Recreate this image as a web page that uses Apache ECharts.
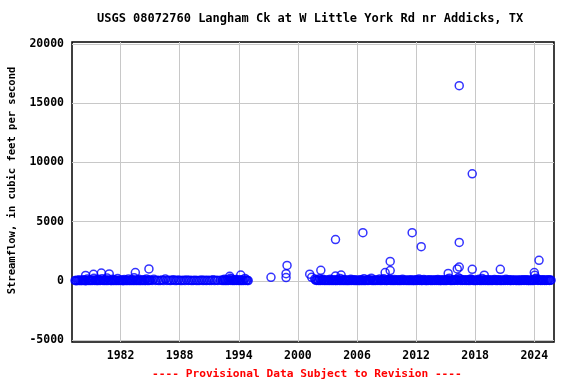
<!DOCTYPE html>
<html><head><meta charset="utf-8">
<script src="https://cdn.jsdelivr.net/npm/echarts@6/dist/echarts.min.js"></script>
<style>html,body{margin:0;padding:0;background:#fff}#c{width:576px;height:384px}</style>
</head><body><div id="c"></div>
<script>
const chartTitle = 'USGS 08072760 Langham Ck at W Little York Rd nr Addicks, TX';
const yAxisTitle = 'Streamflow, in cubic feet per second';
const footerText = '---- Provisional Data Subject to Revision ----';
const yTicks = [-5000, 0, 5000, 10000, 15000, 20000];
const xTicks = [1982, 1988, 1994, 2000, 2006, 2012, 2018, 2024];

// Monthly near-baseline measurements (cfs), one row per year
const monthlyYears = [1977,1978,1979,1980,1981,1982,1983,1984,1985,1986,1987,1988,1989,1990,1991,1992,1993,1994,
  2001,2002,2003,2004,2005,2006,2007,2008,2009,2010,2011,2012,2013,2014,2015,2016,2017,2018,2019,2020,2021,2022,2023,2024,2025];
const monthlyFlow = [
  [null,null,null,null,18,25,12,40,22,65,30,15],
  [28,45,20,90,35,14,22,160,40,18,55,30],
  [75,20,40,210,25,60,18,35,140,22,48,30],
  [40,180,25,55,16,90,30,240,20,45,70,26],
  [35,18,120,24,60,15,40,28,190,22,36,50],
  [20,65,30,14,110,38,22,52,18,150,30,24],
  [45,22,80,35,260,18,40,25,60,20,130,28],
  [30,55,18,42,90,20,35,160,25,48,22,70],
  [40,null,25,null,120,null,30,null,55,null,20,null],
  [35,null,60,null,18,null,150,null,28,null,45,null],
  [22,null,40,null,90,null,16,null,35,null,60,null],
  [28,null,18,null,45,null,22,null,70,null,30,null],
  [40,null,20,null,35,null,55,null,18,null,26,null],
  [30,null,65,null,22,null,40,null,15,null,50,null],
  [25,null,35,null,80,null,20,null,45,null,30,null],
  [null,40,null,25,60,18,120,30,45,22,90,35],
  [50,210,30,160,25,70,20,45,110,28,60,35],
  [40,22,95,30,55,18,45,200,25,60,30,20],
  [null,null,null,null,null,null,null,null,150,60,30,90],
  [45,20,180,35,60,25,120,40,18,70,30,55],
  [30,65,22,140,40,18,55,28,90,35,20,60],
  [25,80,35,200,20,45,60,18,110,30,50,22],
  [40,18,70,30,120,25,45,60,20,85,35,28],
  [55,22,40,15,95,30,60,20,180,35,25,45],
  [30,110,25,60,40,220,20,50,35,70,18,45],
  [65,28,40,150,22,55,30,90,180,25,45,35],
  [20,75,40,130,30,60,25,45,18,100,35,55],
  [45,20,85,30,60,15,40,120,25,50,30,70],
  [25,55,18,40,30,90,20,45,35,15,60,28],
  [80,30,45,160,25,60,35,20,50,110,40,22],
  [35,65,20,45,90,30,55,18,40,75,25,60],
  [28,40,110,22,60,35,18,50,85,30,45,20],
  [60,25,140,40,220,30,55,20,45,90,35,65],
  [40,120,30,250,60,180,35,70,25,55,90,30],
  [45,25,80,35,60,20,150,110,40,30,55,22],
  [35,70,25,50,140,30,45,20,200,60,35,80],
  [25,50,35,90,20,60,40,18,75,30,55,110],
  [40,22,65,30,85,45,20,55,35,70,25,50],
  [30,140,40,25,60,90,35,20,50,75,30,45],
  [55,25,35,70,20,40,18,60,30,45,85,25],
  [40,60,25,80,35,20,55,30,45,20,65,35],
  [150,40,220,60,30,85,45,25,60,35,90,40],
  [35,70,25,55,40,90,30,60,45,null,null,null]
];

// Higher flow measurements (decimal year, cfs)
const peakYears = [1978.45,1979.25,1980.05,1980.85,1983.5,1984.88,1993.08,1994.2,1997.27,1998.8,1998.8,1998.9,
  2001.2,2001.4,2002.33,2003.82,2003.82,2004.39,2006.6,2008.86,2009.37,2009.37,2011.6,2012.52,2015.26,
  2016.18,2016.38,2016.38,2016.38,2017.7,2017.7,2018.92,2020.55,2024.0,2024.05,2024.48];
const peakFlow = [450,550,650,580,690,1000,380,490,290,270,600,1300,
  560,290,880,3480,400,490,4060,690,860,1640,4060,2880,620,
  1000,1160,3240,16480,970,9040,470,970,690,460,1730];

const points = [];
monthlyYears.forEach((yr, i) => {
  monthlyFlow[i].forEach((v, m) => { if (v !== null) points.push([yr + (m + 0.5) / 12, v]); });
});
peakYears.forEach((yr, i) => points.push([yr, peakFlow[i]]));

const FONT = 'DejaVu Sans Mono';
const chart = echarts.init(document.getElementById('c'), null, {renderer: 'canvas'});
chart.setOption({
  animation: false,
  backgroundColor: '#fff',
  grid: {left: 72, right: 22, top: 42, bottom: 42, show: true, borderColor: '#000', borderWidth: 1.5, containLabel: false},
  xAxis: {
    type: 'value', min: 1977.07, max: 2026.0,
    axisLine: {show: false},
    axisTick: {show: false, customValues: xTicks},
    axisLabel: {customValues: xTicks, formatter: v => String(v), color: '#000', fontFamily: FONT, fontWeight: 'bold', fontSize: 11.5, margin: 8},
    splitLine: {show: true, lineStyle: {color: '#c8c8c8', width: 1}}
  },
  yAxis: {
    type: 'value', min: -5170, max: 20170,
    axisLine: {show: false},
    axisTick: {show: false, customValues: yTicks},
    axisLabel: {customValues: yTicks, formatter: v => String(v), color: '#000', fontFamily: FONT, fontWeight: 'bold', fontSize: 11.5, margin: 8},
    splitLine: {show: true, lineStyle: {color: '#c8c8c8', width: 1}}
  },
  graphic: [
    {type: 'text', left: 97, top: 13, style: {text: chartTitle, fill: '#000', font: 'bold 12px "DejaVu Sans Mono"'}},
    {type: 'text', x: 12, y: 180.5, rotation: Math.PI / 2, style: {text: yAxisTitle, fill: '#000', font: 'bold 10.5px "DejaVu Sans Mono"', align: 'center', verticalAlign: 'middle'}},
    {type: 'text', left: 152, top: 369, style: {text: footerText, fill: '#ff0000', font: 'bold 11.2px "DejaVu Sans Mono"'}}
  ],
  series: [{
    type: 'scatter',
    data: points,
    symbol: 'circle',
    symbolSize: 8,
    itemStyle: {color: 'rgba(0,0,0,0)', borderColor: '#0000ff', borderWidth: 1.5},
    emphasis: {disabled: true}
  }]
});
</script></body></html>
